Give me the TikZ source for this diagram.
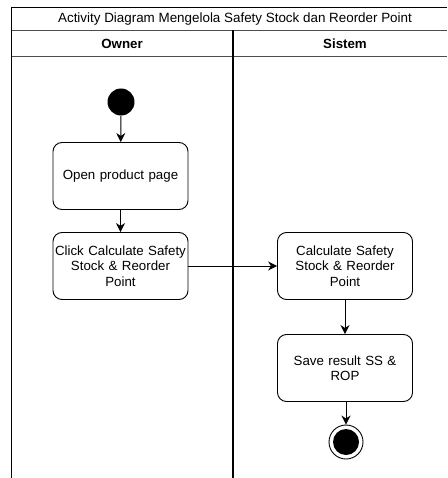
\documentclass[tikz,border=0pt]{standalone}
\usepackage{fontspec}
\setmainfont{Liberation Sans}
\usetikzlibrary{arrows.meta}
\begin{document}
\begin{tikzpicture}[x=1pt,y=-1pt,
  lane/.style={draw=black,line width=0.9pt},
  act/.style={draw=black,line width=0.9pt,rounded corners=9pt,fill=white,minimum width=133pt,minimum height=67pt,align=center,font=\fontsize{13.3}{15.5}\selectfont,inner sep=0pt,text width=135pt},
  flow/.style={draw=black,line width=1pt,-{Stealth[length=9pt,width=9pt]}},
  ttl/.style={font=\fontsize{13.4}{15}\selectfont},
  hdr/.style={font=\bfseries\fontsize{13.3}{15}\selectfont}]
\useasboundingbox (0,0) rectangle (447,478);
% swimlane frame
\draw[lane] (11.5,478) -- (11.5,7) -- (447,7);
\draw[lane,draw=black!70] (11.5,30.5) -- (447,30.5);
\draw[lane,draw=black!70] (11.5,56) -- (447,56);
\draw[line width=1.8pt] (233,30.5) -- (233,478);
\node[ttl] (title) at (235,19) {Activity Diagram Mengelola Safety Stock dan Reorder Point};
\node[hdr] (owner) at (122,43.5) {Owner};
\node[hdr] (sistem) at (345,43.5) {Sistem};
% nodes
\node[circle,fill=black,minimum size=27pt,inner sep=0pt] (start) at (121,102) {};
\node[act] (open) at (120.5,176) {Open product page};
\node[act] (click) at (120.5,266) {Click Calculate Safety\\Stock \& Reorder\\Point};
\node[act] (calc) at (345,266) {Calculate Safety\\Stock \& Reorder\\Point};
\node[act] (save) at (345,368) {Save result SS \&\\ROP};
\node[circle,draw=black,line width=0.9pt,minimum size=34pt,inner sep=0pt] (end) at (346,442) {};
\node[circle,fill=black,minimum size=26pt,inner sep=0pt] (endin) at (346,442) {};
% flows
\draw[flow] (start) -- (open);
\draw[flow] (open) -- (click);
\draw[flow] (click) -- (calc);
\draw[flow] (calc) -- (save);
\draw[flow] (save.south -| end.north) -- (end);
\end{tikzpicture}
\end{document}
